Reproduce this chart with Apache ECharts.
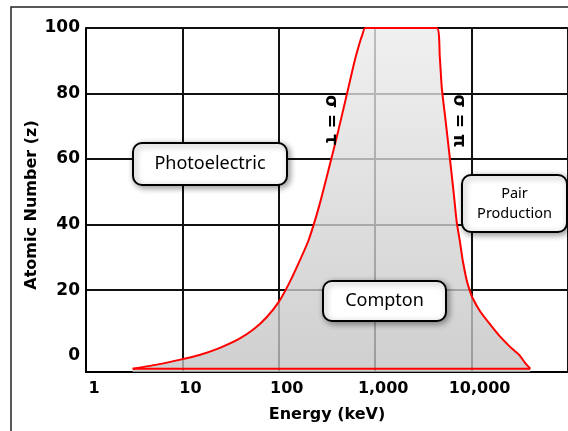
<!DOCTYPE html>
<html>
<head>
<meta charset="utf-8">
<script src="https://cdn.jsdelivr.net/npm/echarts@6/dist/echarts.min.js"></script>
<style>html,body{margin:0;padding:0;background:#fff}#c{width:568px;height:431px}</style>
</head>
<body>
<div id="c"></div>
<script>
// Boundary of the Compton-dominant region (energy in keV, atomic number Z)
const comptonEnergy = [3.05, 5.8, 9.3, 15, 24.1, 38.7, 55.2, 75.2, 100, 127, 161, 204, 259, 328, 416, 515, 608, 684, 735, 789, 4357, 4678, 4906, 5395, 5932, 6523, 7003, 7520, 8076, 8880, 9537, 10240, 12380, 15700, 19910, 25240, 31250, 36040, 40570];
const comptonZ = [-4, -2.6, -1.3, 0.2, 2.3, 5.1, 8.1, 11.8, 16.4, 21.9, 28.3, 35.3, 45.1, 56.7, 68.9, 80.5, 89.6, 95.1, 97.9, 100, 100, 91.2, 81.7, 71.3, 60.6, 49.6, 40.8, 35.3, 29.2, 23.1, 20.0, 17.6, 13.3, 9.4, 5.7, 2.6, 0.2, -2.3, -4];
const baseEnergy = [3.05, 40570];
const baseZ = [-4, -4];
const yTickLabels = [0, 20, 40, 60, 80, 100];
const yGridValues = [20, 40, 60, 80, 100];
const regionLabels = ['Photoelectric', 'Compton', 'Pair\nProduction'];
const boundaryLabels = ['σ = τ', 'σ = π'];

const chart = echarts.init(document.getElementById('c'), null, {renderer: 'canvas'});
const FONT = '"DejaVu Sans", sans-serif';
const BOXFONT = '"Noto Sans", "Open Sans", sans-serif';

function box(x, y, w, h, text, fontSize, lh) {
  return {
    type: 'group', z: 20,
    children: [
      {type: 'rect', z: 20, shape: {x: x, y: y, width: w, height: h, r: 9},
       style: {fill: '#fff', stroke: '#000', lineWidth: 2, shadowBlur: 6, shadowColor: 'rgba(0,0,0,0.4)', shadowOffsetX: 2, shadowOffsetY: 2}},
      {type: 'text', z: 21, x: x + w / 2, y: y + h / 2,
       style: {text: text, fontSize: fontSize, fontFamily: BOXFONT, fill: '#000', align: 'center', verticalAlign: 'middle', lineHeight: lh}}
    ]
  };
}

const option = {
  animation: false,
  backgroundColor: '#fff',
  grid: {left: 86, top: 28, width: 485, height: 344, containLabel: false},
  xAxis: {
    type: 'log', logBase: 10, min: 1, max: 100000,
    name: 'Energy (keV)', nameLocation: 'middle', nameGap: 35,
    nameTextStyle: {fontFamily: FONT, fontWeight: 'bold', fontSize: 16, color: '#000'},
    axisLine: {onZero: false, lineStyle: {color: '#000', width: 2}},
    axisTick: {show: false},
    splitLine: {show: true, lineStyle: {color: '#111', width: 2}},
    axisLabel: {
      fontFamily: FONT, fontWeight: 'bold', fontSize: 16, color: '#000', margin: 9,
      padding: [0, 0, 0, 16], showMaxLabel: false,
      formatter: v => Math.round(v).toLocaleString('en-US')
    }
  },
  yAxis: {
    type: 'value', min: -5, max: 100,
    axisLine: {show: true, onZero: false, lineStyle: {color: '#000', width: 2}},
    axisTick: {show: false, customValues: yGridValues},
    splitLine: {show: true, lineStyle: {color: '#111', width: 2}},
    axisLabel: {
      customValues: yTickLabels,
      fontFamily: FONT, fontWeight: 'bold', fontSize: 17, color: '#000', margin: 6
    }
  },
  graphic: [
    {type: 'rect', z: 0, silent: true, shape: {x: 11, y: 7, width: 700, height: 600}, style: {fill: 'none', stroke: '#222', lineWidth: 1.5}},
    {type: 'text', z: 5, x: 32, y: 205, rotation: Math.PI / 2,
     style: {text: 'Atomic Number (z)', fontFamily: FONT, fontWeight: 'bold', fontSize: 16, fill: '#000', align: 'center', verticalAlign: 'middle'}},
    {type: 'text', z: 5, x: 330, y: 120, rotation: -Math.PI / 2,
     style: {text: boundaryLabels[0], fontFamily: FONT, fontWeight: 'bold', fontSize: 17, fill: '#000', align: 'center', verticalAlign: 'middle'}},
    {type: 'text', z: 5, x: 458, y: 121, rotation: -Math.PI / 2,
     style: {text: boundaryLabels[1], fontFamily: FONT, fontWeight: 'bold', fontSize: 17, fill: '#000', align: 'center', verticalAlign: 'middle'}},
    box(133, 143, 154, 42, regionLabels[0], 18, 22),
    box(323, 281, 123, 40, regionLabels[1], 18, 22),
    box(462, 175, 105, 57, regionLabels[2], 14.5, 20)
  ],
  series: [
    {
      type: 'line', z: 3, symbol: 'none', smooth: 0.2,
      data: comptonEnergy.map((e, i) => [e, comptonZ[i]]),
      lineStyle: {color: '#ff0000', width: 2},
      areaStyle: {
        origin: 'start', opacity: 0.78,
        color: new echarts.graphic.LinearGradient(0, 0, 0, 1, [
          {offset: 0, color: 'rgb(236,236,236)'},
          {offset: 1, color: 'rgb(194,194,194)'}
        ])
      }
    },
    {
      type: 'line', z: 4, symbol: 'none',
      data: baseEnergy.map((e, i) => [e, baseZ[i]]),
      lineStyle: {color: '#ff0000', width: 2}
    }
  ]
};
chart.setOption(option);
</script>
</body>
</html>
